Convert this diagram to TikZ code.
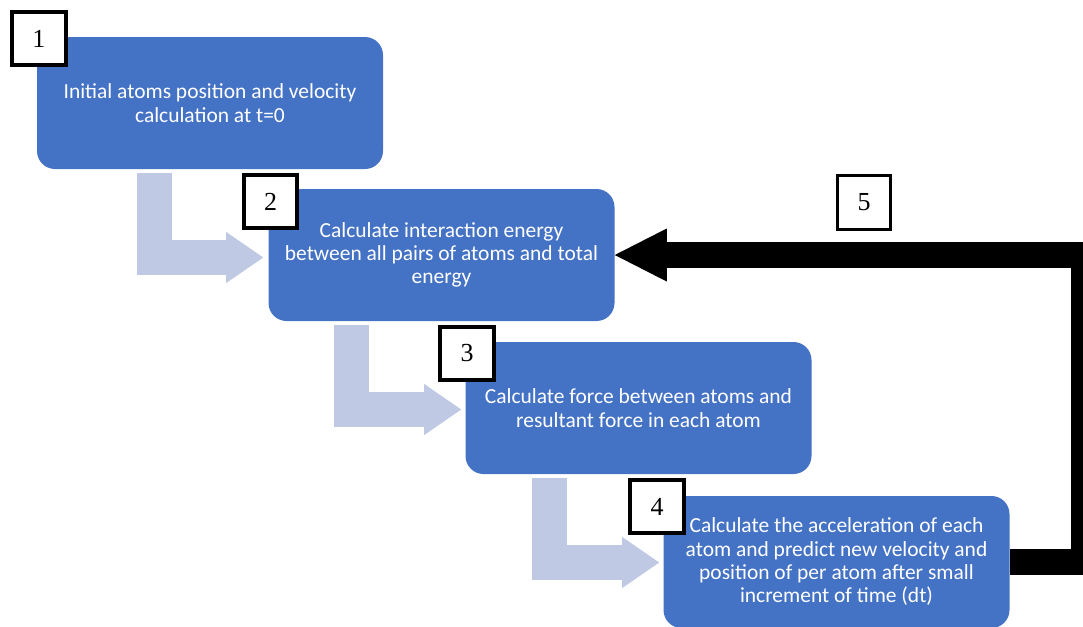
\documentclass[tikz,border=0pt]{standalone}
\usepackage{fontspec}
\setmainfont{Carlito}
\newfontfamily\numfont{Liberation Serif}
\usepackage{tikz}
\usetikzlibrary{arrows.meta,calc,positioning}

\definecolor{stageblue}{RGB}{68,114,196}
\definecolor{flowblue}{RGB}{191,201,228}

\begin{document}
\begin{tikzpicture}[
    x=0.75pt,
    y=-0.75pt,
    stage/.style={
        rectangle,
        rounded corners=13.5pt,
        fill=stageblue,
        text=white,
        minimum width=259.5pt,
        minimum height=99pt,
        align=center,
        font=\fontsize{16.1}{17.5}\selectfont
    },
    number/.style={
        rectangle,
        draw=black,
        line width=3pt,
        fill=white,
        minimum size=40pt,
        inner sep=0pt,
        font=\numfont\fontsize{19.5}{19.5}\selectfont
    },
    flow/.style={
        draw=flowblue,
        line width=26.25pt,
        -{Triangle[length=27.75pt, width=38.25pt, line width=0pt]}
    },
    loop_arrow/.style={
        draw=black,
        line width=19.5pt,
        line join=miter,
        -{Triangle[length=39pt, width=39.75pt, line width=0pt]}
    }
]
\useasboundingbox (0,0) rectangle (1083,626);
\clip (0,0) rectangle (1083,626);

% Etapele simularii
\node[stage] (init) at (210, 103) {
    Initial atoms position and velocity\\
    calculation at t=0
};

\node[stage] (energy) at (441.5, 255) {
    Calculate interaction energy\\
    between all pairs of atoms and total\\
    energy
};

\node[stage] (force) at (638.5, 408) {
    Calculate force between atoms and\\
    resultant force in each atom
};

\node[stage] (update) at (836.5, 562) {
    Calculate the acceleration of each\\
    atom and predict new velocity and\\
    position of per atom after small\\
    increment of time (dt)
};

% Sagetile intre etape
\draw[flow] ($(init.south west)+(117.5,4)$) |- ($(energy.west)+(-5,2.5)$);
\draw[flow] ($(energy.south west)+(83.5,4)$) |- ($(force.west)+(-4,1.5)$);
\draw[flow] ($(force.south west)+(84.5,4)$) |- ($(update.west)+(-4,0.5)$);

% Bucla de timp
\coordinate (loop_edge) at (1084, 0);
\draw[loop_arrow] (update.east) -- (update.east -| loop_edge)
    -- (energy.east -| loop_edge) -- (energy.east);

% Numerotarea pasilor
\node[number] (n1) at (39, 38.5) {1};
\node[number] (n2) at (270.5, 201.5) {2};
\node[number] (n3) at (467, 353.5) {3};
\node[number] (n4) at (657, 506.5) {4};
\node[number, line width=2.25pt] (n5) at (864, 202.5) {5};

\end{tikzpicture}
\end{document}
